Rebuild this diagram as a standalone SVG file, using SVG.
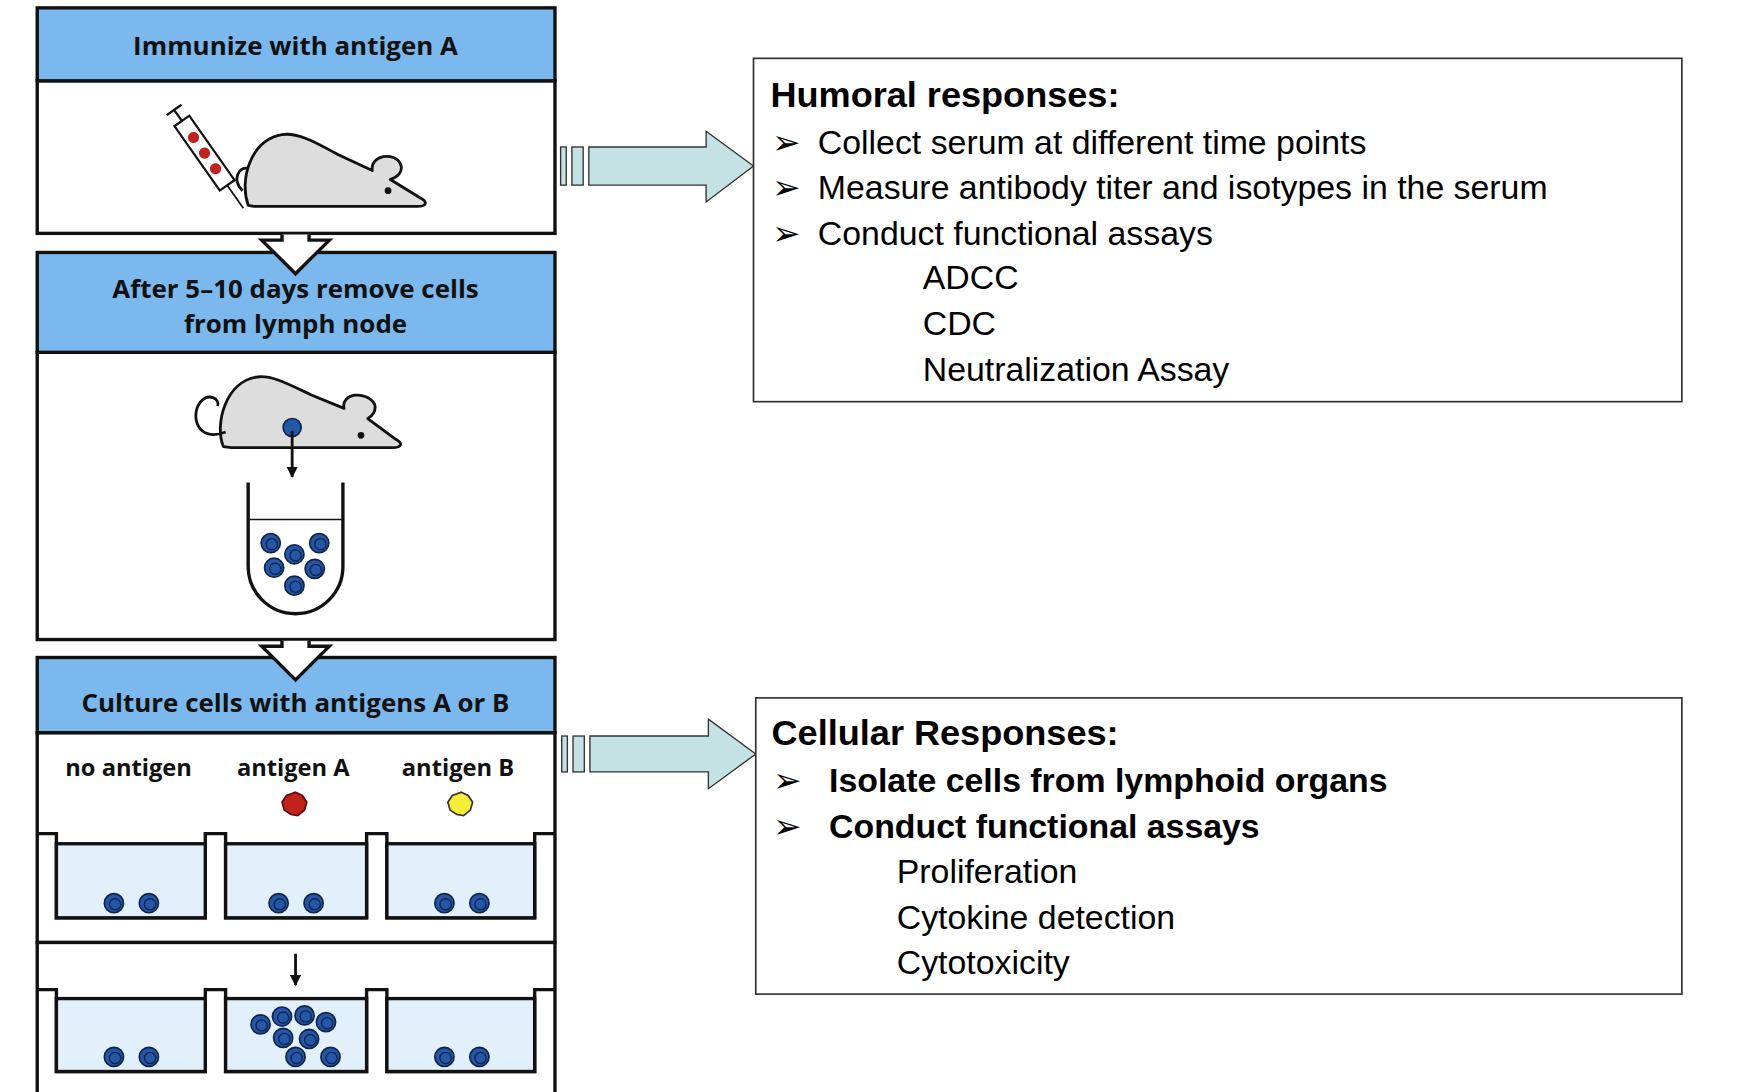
<svg xmlns="http://www.w3.org/2000/svg" width="1760" height="1092" viewBox="0 0 1760 1092">
<defs>
<style>
.hd{fill:#7ab8ee;stroke:#111;stroke-width:3}
.bd{fill:#fff;stroke:#111;stroke-width:3}
.ht{font-family:"Open Sans","Liberation Sans",sans-serif;font-weight:bold;font-size:23px;fill:#111;text-anchor:middle}
.lb{font-family:"Open Sans","Liberation Sans",sans-serif;font-weight:bold;font-size:21px;fill:#111;text-anchor:middle}
.rt{font-family:"Liberation Sans",Arial,sans-serif;font-size:30px;fill:#000}
.rb{font-family:"Liberation Sans",Arial,sans-serif;font-size:32px;font-weight:bold;fill:#000}
.box{fill:#fff;stroke:#333;stroke-width:1.5}
.mouse{fill:#ddd;stroke:#111;stroke-width:2.5;stroke-linejoin:round}
.well{fill:#e1f0fb;stroke:#111;stroke-width:3}
.big{fill:#c4e2e4;stroke:#333;stroke-width:1.2}
</style>
<g id="cell"><circle r="8.5" fill="#2457a8" stroke="#10244a" stroke-width="1.5"/><circle cx="1" cy="1" r="5" fill="none" stroke="#10244a" stroke-width="1.2"/></g>
<marker id="ah" viewBox="0 0 10 10" refX="9" refY="5" markerWidth="4" markerHeight="4" orient="auto"><path d="M0,0L10,5L0,10z" fill="#111"/></marker>
</defs>
<rect width="1760" height="1092" fill="#fff"/>
<g transform="scale(1.128,1.122)">
<g id="panel1">
<rect class="bd" x="33" y="72" width="459" height="136"/>
<rect class="hd" x="33" y="7" width="459" height="65"/>
<text class="ht" x="262" y="49">Immunize with antigen A</text>
<path class="mouse" d="M220,183 C212,160 222,125 250,120 C262,118 275,124 300,138 L330,152 C328,138 350,135 355,146 C358,153 352,158 346,160 L372,176 C380,180 378,184 370,184 L225,184 Z"/>
<path d="M215,170 C205,160 212,148 220,150" fill="none" stroke="#111" stroke-width="2.5"/>
<circle cx="344" cy="170" r="3" fill="#111"/>
<g transform="rotate(-35 185 140)">
<rect x="176" y="100" width="16" height="70" fill="#fff" stroke="#111" stroke-width="2"/>
<line x1="184" y1="100" x2="184" y2="88" stroke="#111" stroke-width="2"/>
<line x1="176" y1="88" x2="192" y2="88" stroke="#111" stroke-width="2"/>
<line x1="184" y1="170" x2="184" y2="195" stroke="#111" stroke-width="1.5"/>
<circle cx="184" cy="118" r="5" fill="#c0221c"/><circle cx="184" cy="135" r="5" fill="#c0221c"/><circle cx="184" cy="152" r="5" fill="#c0221c"/>
</g>
</g>
<g id="panel2">
<rect class="bd" x="33" y="314" width="459" height="256"/>
<rect class="hd" x="33" y="225" width="459" height="89"/>
<text class="ht" x="262" y="266">After 5–10 days remove cells</text>
<text class="ht" x="262" y="297">from lymph node</text>
<path class="mouse" d="M198,398 C190,378 200,340 228,336 C240,334 255,342 276,352 L305,364 C302,350 325,348 332,360 C334,366 330,371 326,373 L350,391 C358,395 356,399 348,399 L205,399 Z"/>
<path d="M200,385 C175,395 168,370 178,358 C185,350 195,355 193,362" fill="none" stroke="#111" stroke-width="2.5"/>
<circle cx="320" cy="388" r="3" fill="#111"/>
<circle cx="259" cy="381" r="8" fill="#2457a8" stroke="#10244a" stroke-width="1.5"/>
<line x1="259" y1="384" x2="259" y2="425" stroke="#111" stroke-width="2.5" marker-end="url(#ah)"/>
<path d="M220,430 V505 A42,42 0 0 0 304,505 V430" fill="none" stroke="#111" stroke-width="3"/>
<line x1="220" y1="463" x2="304" y2="463" stroke="#111" stroke-width="1.5"/>
<use href="#cell" x="240" y="484"/><use href="#cell" x="283" y="484"/><use href="#cell" x="261" y="494"/>
<use href="#cell" x="243" y="506"/><use href="#cell" x="279" y="507"/><use href="#cell" x="261" y="522"/>
</g>
<g id="panel3">
<rect class="bd" x="33" y="653" width="459" height="187"/>
<rect class="bd" x="33" y="840" width="459" height="140"/>
<rect class="hd" x="33" y="586" width="459" height="67"/>
<text class="ht" x="262" y="635">Culture cells with antigens A or B</text>
<text class="lb" x="114" y="692">no antigen</text>
<text class="lb" x="260" y="692">antigen A</text>
<text class="lb" x="406" y="692">antigen B</text>
<path d="M262,706 l6,3 4,6 -2,7 -6,5 -6,-1 -6,-4 -2,-7 4,-6z" fill="#c0221c" stroke="#5a0c0a" stroke-width="1.5"/>
<path d="M409,706 l6,3 4,6 -2,7 -6,5 -6,-1 -6,-4 -2,-7 4,-6z" fill="#f6ec3a" stroke="#333" stroke-width="1.5"/>
<path d="M33,743 H50 V818 H182 V743 H200 V818 H325 V743 H343 V818 H474 V743 H492" fill="none" stroke="#111" stroke-width="3"/>
<rect class="well" x="50" y="752" width="132" height="66"/><rect class="well" x="200" y="752" width="125" height="66"/><rect class="well" x="343" y="752" width="131" height="66"/>
<use href="#cell" x="101" y="805"/><use href="#cell" x="132" y="805"/>
<use href="#cell" x="247" y="805"/><use href="#cell" x="278" y="805"/>
<use href="#cell" x="394" y="805"/><use href="#cell" x="425" y="805"/>
<line x1="262" y1="850" x2="262" y2="878" stroke="#111" stroke-width="2.5" marker-end="url(#ah)"/>
<path d="M33,882 H50 V955 H182 V882 H200 V955 H325 V882 H343 V955 H474 V882 H492" fill="none" stroke="#111" stroke-width="3"/>
<rect class="well" x="50" y="890" width="132" height="65"/><rect class="well" x="200" y="890" width="125" height="65"/><rect class="well" x="343" y="890" width="131" height="65"/>
<use href="#cell" x="101" y="942"/><use href="#cell" x="132" y="942"/>
<use href="#cell" x="394" y="942"/><use href="#cell" x="425" y="942"/>
<use href="#cell" x="231" y="913"/><use href="#cell" x="250" y="906"/><use href="#cell" x="270" y="905"/><use href="#cell" x="289" y="911"/>
<use href="#cell" x="251" y="925"/><use href="#cell" x="274" y="926"/><use href="#cell" x="262" y="942"/><use href="#cell" x="293" y="942"/>
</g>
<g id="connectors">
<path d="M262,208 m-30,0 h22 v-0 M232,210 h20 v0" fill="none"/>
<path d="M250,209 V214 H232 L262,244 L292,214 H274 V209" fill="#fff" stroke="#111" stroke-width="3" stroke-linejoin="miter"/>
<path d="M250,571 V576 H232 L262,606 L292,576 H274 V571" fill="#fff" stroke="#111" stroke-width="3"/>
<rect class="big" x="497" y="131" width="5" height="34"/><rect class="big" x="507" y="131" width="10" height="34"/>
<path class="big" d="M522,131 H626 V117 L668,148 L626,180 V165 H522 Z"/>
<rect class="big" x="498" y="656" width="5" height="32"/><rect class="big" x="508" y="656" width="10" height="32"/>
<path class="big" d="M523,656 H628 V641 L670,672 L628,703 V688 H523 Z"/>
</g>
<g id="humoral">
<rect class="box" x="668" y="52" width="823" height="306"/>
<text class="rb" x="683" y="95">Humoral responses:</text>
<text class="rt" x="684" y="137">➢</text><text class="rt" x="725" y="137">Collect serum at different time points</text>
<text class="rt" x="684" y="177">➢</text><text class="rt" x="725" y="177">Measure antibody titer and isotypes in the serum</text>
<text class="rt" x="684" y="218">➢</text><text class="rt" x="725" y="218">Conduct functional assays</text>
<text class="rt" x="818" y="258">ADCC</text>
<text class="rt" x="818" y="299">CDC</text>
<text class="rt" x="818" y="340">Neutralization Assay</text>
</g>
<g id="cellular">
<rect class="box" x="670" y="622" width="821" height="264"/>
<text class="rb" x="684" y="664">Cellular Responses:</text>
<text class="rt" x="685" y="706">➢</text><text class="rt" x="735" y="706" font-weight="bold">Isolate cells from lymphoid organs</text>
<text class="rt" x="685" y="747">➢</text><text class="rt" x="735" y="747" font-weight="bold">Conduct functional assays</text>
<text class="rt" x="795" y="787">Proliferation</text>
<text class="rt" x="795" y="828">Cytokine detection</text>
<text class="rt" x="795" y="868">Cytotoxicity</text>
</g>
</g>
</svg>
